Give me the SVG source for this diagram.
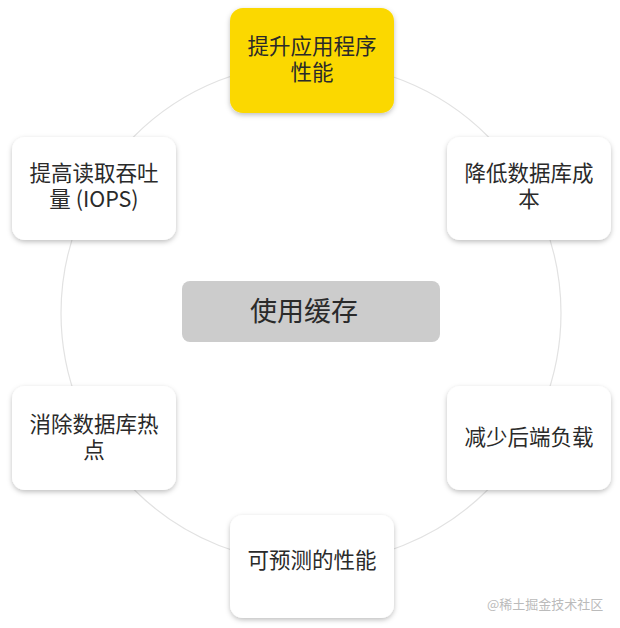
<svg xmlns="http://www.w3.org/2000/svg" width="620" height="628" viewBox="0 0 620 628">
<defs>
<filter id="sh" x="-20%" y="-20%" width="140%" height="150%">
<feDropShadow dx="0" dy="2" stdDeviation="2.5" flood-color="#000" flood-opacity="0.25"/>
</filter>
<style>
.box{fill:#fff;filter:url(#sh)}
.hl{fill:#fbd800}
.ctr{fill:#cccccc}
.t{font-family:"Noto Sans CJK SC","Liberation Sans",sans-serif;font-size:21.5px;fill:#2a2a2a;text-anchor:middle}
.c{font-size:27px}
.wm{font-family:"Noto Sans CJK SC","Liberation Sans",sans-serif;font-size:13px;fill:#bbb}
</style>
</defs>
<rect width="620" height="628" fill="#fff"/>
<g id="connectors">
<circle cx="311" cy="313" r="250" fill="none" stroke="#e2e2e2" stroke-width="1.2"/>
</g>
<g id="n-top">
<rect class="box hl" x="230" y="8" width="164" height="105" rx="13"/>
<text class="t" x="312" y="54">提升应用程序<tspan x="312" dy="26">性能</tspan></text>
</g>
<g id="n-ur">
<rect class="box" x="447" y="137" width="164" height="103" rx="13"/>
<text class="t" x="529" y="181">降低数据库成<tspan x="529" dy="26">本</tspan></text>
</g>
<g id="n-lr">
<rect class="box" x="447" y="386" width="164" height="104" rx="13"/>
<text class="t" x="529" y="445">减少后端负载</text>
</g>
<g id="n-bottom">
<rect class="box" x="230" y="515" width="164" height="103" rx="13"/>
<text class="t" x="312" y="568">可预测的性能</text>
</g>
<g id="n-ll">
<rect class="box" x="12" y="386" width="164" height="104" rx="13"/>
<text class="t" x="94" y="432">消除数据库热<tspan x="94" dy="26">点</tspan></text>
</g>
<g id="n-ul">
<rect class="box" x="12" y="137" width="164" height="103" rx="13"/>
<text class="t" x="94" y="181">提高读取吞吐<tspan x="94" dy="26">量 (IOPS)</tspan></text>
</g>
<g id="n-center">
<rect class="ctr" x="182" y="281" width="258" height="61" rx="8"/>
<text class="t c" x="304" y="321">使用缓存</text>
</g>
<text class="wm" x="487" y="609">@稀土掘金技术社区</text>
</svg>
